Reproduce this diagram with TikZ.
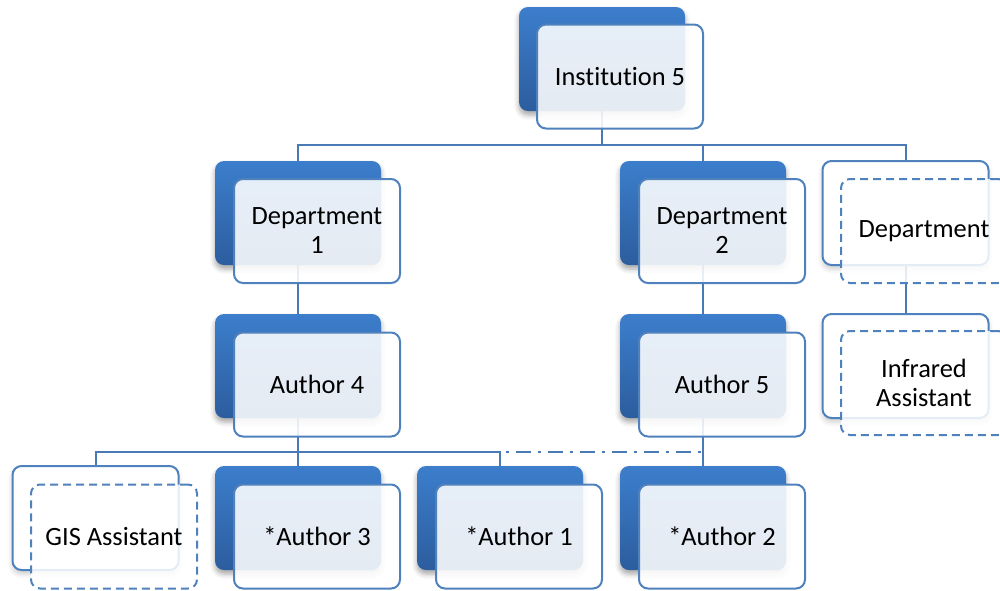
\documentclass[tikz,border=0pt]{standalone}
\usepackage{fontspec}
\setmainfont{Carlito}[RawFeature={-liga;-clig;-calt;-rlig;-dlig}]
\usetikzlibrary{shadows.blur}
\pgfdeclarelayer{background}
\pgfsetlayers{background,main}
\definecolor{bkTop}{RGB}{60,126,204}
\definecolor{bkBot}{RGB}{44,93,158}
\definecolor{edge}{RGB}{79,129,189}
\definecolor{wire}{RGB}{74,122,182}
\tikzset{
  card/.style={rectangle, rounded corners=9pt, minimum width=166pt,
    minimum height=104pt, inner sep=0pt},
  backbox/.style={card, draw=none, top color=bkTop, bottom color=bkBot,
    blur shadow={shadow xshift=0pt, shadow yshift=-4pt,
      shadow blur radius=5pt, shadow opacity=35}},
  frontbox/.style={card, draw=edge, line width=2pt, fill=white,
    fill opacity=0.88, text opacity=1, align=center,
    font=\fontsize{26.4}{29}\selectfont},
  ghostback/.style={card, draw=edge, line width=2pt, fill=white,
    blur shadow={shadow xshift=0pt, shadow yshift=-4pt,
      shadow blur radius=5pt, shadow opacity=20}},
  ghostfront/.style={frontbox, dash pattern=on 8pt off 5pt, fill opacity=0.85},
  wireline/.style={draw=wire, line width=2pt},
  dashdotline/.style={wireline, dash pattern=on 15pt off 7pt on 3pt off 7pt, dash phase=-12pt}
}
\begin{document}
\begin{tikzpicture}[x=1pt, y=-1pt]
\useasboundingbox (0,0) rectangle (1000,590);

% top level
\node[backbox]  (inst-b) at (602,59) {};
\node[frontbox] (inst)   at (620,76.5) {Institution 5};

% departments
\node[backbox]  (d1-b) at (298,213) {};
\node[frontbox] (d1)   at (317,231) {Department\\1};
\node[backbox]  (d2-b) at (703,213) {};
\node[frontbox] (d2)   at (722,231) {Department\\2};
\node[ghostback]  (d3-b) at (905.5,213) {};
\node[ghostfront] (d3)   at (924,231) {Department};

% authors
\node[backbox]  (a4-b) at (298,366) {};
\node[frontbox] (a4)   at (317,384.5) {Author 4};
\node[backbox]  (a5-b) at (703,366) {};
\node[frontbox] (a5)   at (722,384.5) {Author 5};
\node[ghostback]  (ir-b) at (905.5,366) {};
\node[ghostfront] (ir)   at (924,383) {Infrared\\Assistant};

% bottom row
\node[ghostback]  (gis-b) at (95.5,518) {};
\node[ghostfront] (gis)   at (114,536.5) {GIS Assistant};
\node[backbox]  (a3-b) at (298,518) {};
\node[frontbox] (a3)   at (317,536.5) {*Author 3};
\node[backbox]  (a1-b) at (500,518) {};
\node[frontbox] (a1)   at (519,536.5) {*Author 1};
\node[backbox]  (a2-b) at (703,518) {};
\node[frontbox] (a2)   at (722,536.5) {*Author 2};

% junction points of the buses
\coordinate (bus0) at (602,145);
\coordinate (bus1) at (298,452);
\coordinate (bus1r) at (500,452);
\coordinate (bus2) at (703,452);

\begin{pgfonlayer}{background}
  \draw[wireline] (inst-b.south) -- (bus0) -| (d1-b.north);
  \draw[wireline] (bus0) -| (d2-b.north);
  \draw[wireline] (bus0) -| (d3-b.north);
  \draw[wireline] (d1-b.south) -- (a4-b.north);
  \draw[wireline] (d2-b.south) -- (a5-b.north);
  \draw[wireline] (d3-b.south) -- (ir-b.north);
  \draw[wireline] (a4-b.south) -- (bus1) -| (gis-b.north);
  \draw[wireline] (bus1) -- (a3-b.north);
  \draw[wireline] (bus1) -| (a1-b.north);
  \draw[wireline] (a5-b.south) -- (a2-b.north);
  \draw[dashdotline] (bus2) -- (bus1r);
\end{pgfonlayer}
\end{tikzpicture}
\end{document}
